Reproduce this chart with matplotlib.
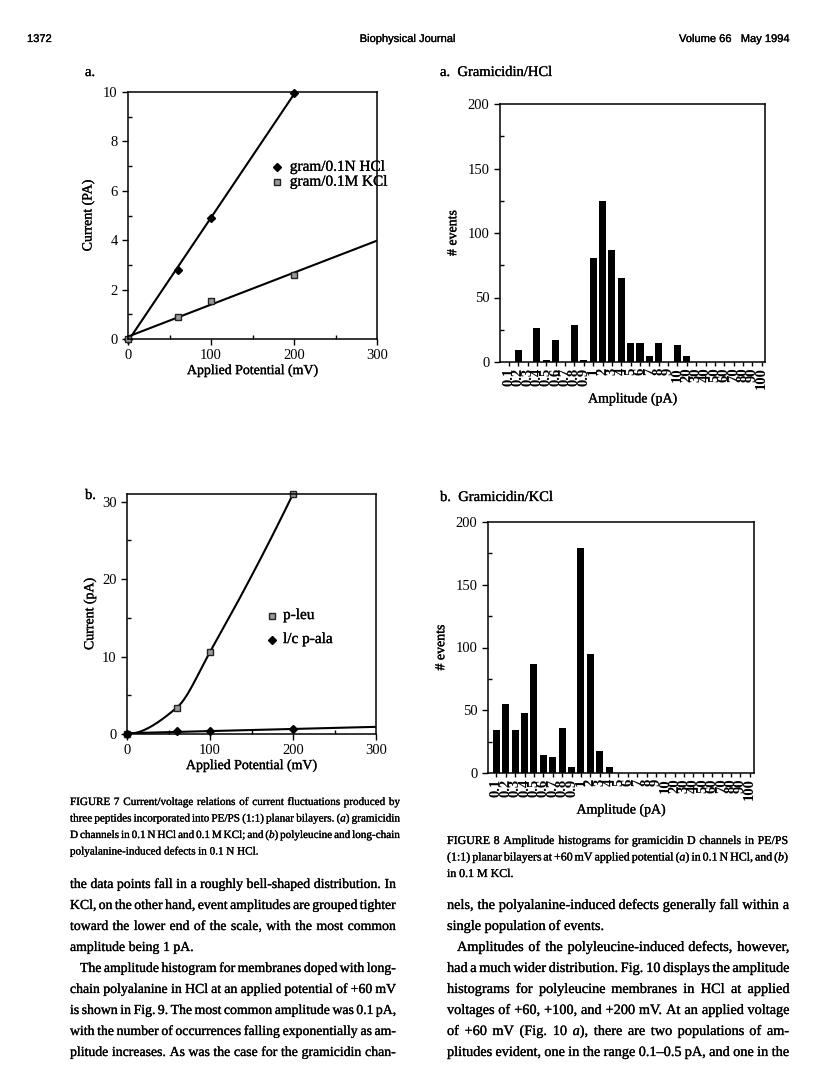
import numpy as np
import matplotlib
matplotlib.use("Agg")
import matplotlib.pyplot as plt
import matplotlib.patheffects as pe
from matplotlib.text import Text
from matplotlib.ticker import MultipleLocator

# ---------------- data ----------------
potential_a = [0, 60, 100, 200]
gram_hcl = [0, 2.8, 4.9, 9.95]
gram_kcl = [0, 0.9, 1.55, 2.6]

potential_b = [0, 60, 100, 200]
p_leu = [0, 3.4, 10.6, 31.0]
lc_p_ala = [0, 0.4, 0.4, 0.6]

amp_labels = ["0.1", "0.2", "0.3", "0.4", "0.5", "0.6", "0.7", "0.8", "0.9",
              "1", "2", "3", "4", "5", "6", "7", "8", "9",
              "10", "20", "30", "40", "50", "60", "70", "80", "90", "100"]
events_hcl = [0, 9, 0, 26, 1.5, 17, 0, 29, 1.5, 81, 125, 87, 65, 14.5, 15, 5,
              14.5, 0, 13.5, 4.5, 0, 0, 0, 0, 0, 0, 0, 0]
events_kcl = [34.5, 55, 34.5, 48, 87, 14.5, 12.5, 35.5, 4.5, 179, 95, 17.5, 5,
              0, 0, 0, 0, 0, 0, 0, 0, 0, 0, 0, 0, 0, 0, 0]

W, H = 816, 1067
SERIF = ["Liberation Serif", "DejaVu Serif"]
SANS = ["Liberation Sans", "DejaVu Sans"]
plt.rcParams["font.family"] = SERIF
plt.rcParams["axes.linewidth"] = 1.0

fig = plt.figure(figsize=(W / 100, H / 100), dpi=100)
fig.patch.set_facecolor("white")


def ax_px(x0, y0, x1, y1):
    return fig.add_axes([x0 / W, 1 - y1 / H, (x1 - x0) / W, (y1 - y0) / H])


def pchip(x, y, xs):
    x = np.asarray(x, float); y = np.asarray(y, float)
    h = np.diff(x); dl = np.diff(y) / h
    n = len(x); d = np.zeros(n)
    for k in range(1, n - 1):
        if dl[k - 1] * dl[k] > 0:
            w1 = 2 * h[k] + h[k - 1]; w2 = h[k] + 2 * h[k - 1]
            d[k] = (w1 + w2) / (w1 / dl[k - 1] + w2 / dl[k])
    d0 = ((2 * h[0] + h[1]) * dl[0] - h[0] * dl[1]) / (h[0] + h[1])
    d[0] = d0 if np.sign(d0) == np.sign(dl[0]) else 0.0
    dn = ((2 * h[-1] + h[-2]) * dl[-1] - h[-1] * dl[-2]) / (h[-1] + h[-2])
    d[-1] = dn if np.sign(dn) == np.sign(dl[-1]) else 0.0
    ys = np.empty_like(xs)
    for i, xv in enumerate(xs):
        k = min(np.searchsorted(x, xv, side="right") - 1, n - 2)
        t = (xv - x[k]) / h[k]
        h00 = 2 * t**3 - 3 * t**2 + 1; h10 = t**3 - 2 * t**2 + t
        h01 = -2 * t**3 + 3 * t**2; h11 = t**3 - t**2
        ys[i] = h00 * y[k] + h10 * h[k] * d[k] + h01 * y[k + 1] + h11 * h[k] * d[k + 1]
    return ys


def style_ticks(ax, size):
    ax.tick_params(which="major", direction="out", length=4, width=1.0, labelsize=size)
    ax.tick_params(which="minor", direction="in", length=3, width=1.0)
    for s in ax.spines.values():
        s.set_linewidth(1.1)


sq_kw = dict(marker="s", markersize=5, markerfacecolor="#9a9a9a",
             markeredgecolor="#222222", markeredgewidth=1.0, linestyle="none", clip_on=False)
dm_kw = dict(marker="D", markersize=4.2, color="black", linestyle="none", clip_on=False)

# ---------------- Figure 7a ----------------
ax1 = ax_px(128, 92, 377, 339)
xs = np.linspace(0, 300, 200)
for yv in (gram_hcl, gram_kcl):
    c = np.polyfit(potential_a, yv, 1)
    ax1.plot(xs, np.polyval(c, xs), color="black", lw=1.5)
ax1.plot(potential_a, gram_hcl, **dm_kw)
ax1.plot(potential_a, gram_kcl, **sq_kw)
ax1.set_xlim(0, 300); ax1.set_ylim(0, 10)
ax1.xaxis.set_major_locator(MultipleLocator(100)); ax1.xaxis.set_minor_locator(MultipleLocator(50))
ax1.yaxis.set_major_locator(MultipleLocator(2)); ax1.yaxis.set_minor_locator(MultipleLocator(1))
style_ticks(ax1, 10.5)
ax1.set_xlabel("Applied Potential (mV)", fontsize=10, labelpad=1)
ax1.set_ylabel("Current (PA)", fontsize=10, labelpad=6)
ax1.plot([180], [6.95], **dm_kw)
ax1.plot([180], [6.35], **sq_kw)
ax1.text(195, 6.95, "gram/0.1N HCl", fontsize=11, va="center")
ax1.text(195, 6.35, "gram/0.1M KCl", fontsize=11, va="center")

# ---------------- Figure 7b ----------------
ax2 = ax_px(127, 494, 376, 734)
xs2 = np.linspace(0, 200, 200)
ax2.plot(xs2, pchip(potential_b, p_leu, xs2), color="black", lw=1.5)
c = np.polyfit(potential_b, lc_p_ala, 1)
ax2.plot(xs, np.polyval(c, xs), color="black", lw=1.5)
ax2.plot(potential_b, p_leu, **sq_kw)
ax2.plot(potential_b, lc_p_ala, **dm_kw)
ax2.set_xlim(0, 300); ax2.set_ylim(0, 31)
ax2.xaxis.set_major_locator(MultipleLocator(100)); ax2.xaxis.set_minor_locator(MultipleLocator(50))
ax2.yaxis.set_major_locator(MultipleLocator(10)); ax2.yaxis.set_minor_locator(MultipleLocator(5))
style_ticks(ax2, 10.5)
ax2.set_xlabel("Applied Potential (mV)", fontsize=10, labelpad=1)
ax2.set_ylabel("Current (pA)", fontsize=10, labelpad=4)
ax2.plot([175], [15.3], **sq_kw)
ax2.plot([175], [12.2], **dm_kw)
ax2.text(188, 15.3, "p-leu", fontsize=11, va="center")
ax2.text(188, 12.2, "l/c p-ala", fontsize=11, va="center")

# ---------------- Figure 8 histograms ----------------
hist_ticklabels = []


def hist(ax, vals, xl):
    pos = np.arange(len(amp_labels))
    ax.bar(pos, vals, width=0.75, color="black")
    ax.set_xlim(*xl); ax.set_ylim(0, 200)
    ax.set_xticks(pos)
    labs = ax.set_xticklabels(amp_labels, rotation=90, fontsize=5.4, fontweight="bold")
    hist_ticklabels.extend(labs)
    ax.yaxis.set_major_locator(MultipleLocator(50)); ax.yaxis.set_minor_locator(MultipleLocator(25))
    style_ticks(ax, 10.5)
    ax.tick_params(axis="x", which="major", length=3, pad=1)
    ax.set_xlabel("Amplitude (pA)", fontsize=10, labelpad=2)
    ax.set_ylabel("# events", fontsize=10, labelpad=6)

ax3 = ax_px(500, 104, 765, 362)
hist(ax3, events_hcl, (-0.95, 27.35))
ax4 = ax_px(488, 522, 754, 773)
hist(ax4, events_kcl, (-0.9, 27.45))

# ---------------- text ----------------
def ftext(x, y, s, **kw):
    return fig.text(x / W, 1 - y / H, s, **kw)

ftext(27, 42, "1372", fontsize=8, family=SANS, va="baseline")
ftext(408, 42, "Biophysical Journal", fontsize=8, family=SANS, va="baseline", ha="center")
ftext(790, 42, "Volume 66   May 1994", fontsize=8, family=SANS, va="baseline", ha="right")
ftext(85, 76, "a.", fontsize=10.5, va="baseline")
ftext(85, 499, "b.", fontsize=10.5, va="baseline")
ftext(440, 76, "a.  Gramicidin/HCl", fontsize=10.5, va="baseline")
ftext(440, 501, "b.  Gramicidin/KCl", fontsize=10.5, va="baseline")

renderer = fig.canvas.get_renderer()
_wcache = {}


def seg_width(s, size, style):
    key = (s, round(size, 4), style)
    if key not in _wcache:
        t = fig.text(0, 0, s, fontsize=size, style=style, family=SERIF)
        _wcache[key] = t.get_window_extent(renderer).width
        t.remove()
    return _wcache[key]


def parse_word(w):
    segs = []
    for i, p in enumerate(w.split("*")):
        if p:
            segs.append((p, "italic" if i % 2 else "normal"))
    return segs


def word_widths(s, size):
    words = [parse_word(w) for w in s.split()]
    return words, [sum(seg_width(p, size, st) for p, st in wd) for wd in words]


def line(x0, x1, yb, s, size, justify=True):
    words, widths = word_widths(s, size)
    space = seg_width("a a", size, "normal") - 2 * seg_width("a", size, "normal")
    if justify and len(words) > 1:
        gap = (x1 - x0 - sum(widths)) / (len(words) - 1)
    else:
        gap = space
    x = x0
    for wd, wdt in zip(words, widths):
        xx = x
        for p, st in wd:
            fig.text(xx / W, 1 - yb / H, p, fontsize=size, style=st, family=SERIF, va="baseline")
            xx += seg_width(p, size, st)
        x += wdt + gap


def block(x0, x1, y0, dy, lines, guess, min_gap_em=0.17):
    em = guess * 100 / 72
    need = 0
    for s, j, ind in lines:
        if j:
            words, widths = word_widths(s, guess)
            tot = sum(widths) + min_gap_em * em * (len(words) - 1)
            need = max(need, tot / (x1 - x0 - ind))
    size = guess / need
    for i, (s, just, ind) in enumerate(lines):
        line(x0 + ind, x1, y0 + i * dy, s, size, just)

cap7 = [
    ("FIGURE 7   Current/voltage relations of current fluctuations produced by", True, 0),
    ("three peptides incorporated into PE/PS (1:1) planar bilayers. (*a*) gramicidin", True, 0),
    ("D channels in 0.1 N HCl and 0.1 M KCl; and (*b*) polyleucine and long-chain", True, 0),
    ("polyalanine-induced defects in 0.1 N HCl.", False, 0),
]
block(70, 400, 805, 16.5, cap7, 8, 0.16)

cap8 = [
    ("FIGURE 8   Amplitude histograms for gramicidin D channels in PE/PS", True, 0),
    ("(1:1) planar bilayers at +60 mV applied potential (*a*) in 0.1 N HCl, and (*b*)", True, 0),
    ("in 0.1 M KCl.", False, 0),
]
block(447, 788, 844, 16.5, cap8, 8, 0.16)

body_left = [
    ("the data points fall in a roughly bell-shaped distribution. In", True, 0),
    ("KCl, on the other hand, event amplitudes are grouped tighter", True, 0),
    ("toward the lower end of the scale, with the most common", True, 0),
    ("amplitude being 1 pA.", False, 0),
    ("The amplitude histogram for membranes doped with long-", True, 10),
    ("chain polyalanine in HCl at an applied potential of +60 mV", True, 0),
    ("is shown in Fig. 9. The most common amplitude was 0.1 pA,", True, 0),
    ("with the number of occurrences falling exponentially as am-", True, 0),
    ("plitude increases. As was the case for the gramicidin chan-", True, 0),
]
block(70, 396, 888, 21, body_left, 10, 0.18)

body_right = [
    ("nels, the polyalanine-induced defects generally fall within a", True, 0),
    ("single population of events.", False, 0),
    ("Amplitudes of the polyleucine-induced defects, however,", True, 10),
    ("had a much wider distribution. Fig. 10 displays the amplitude", True, 0),
    ("histograms for polyleucine membranes in HCl at applied", True, 0),
    ("voltages of +60, +100, and +200 mV. At an applied voltage", True, 0),
    ("of +60 mV (Fig. 10 *a*), there are two populations of am-", True, 0),
    ("plitudes evident, one in the range 0.1–0.5 pA, and one in the", True, 0),
]
block(447, 789, 909, 21, body_right, 10, 0.18)

# slightly heavier glyphs, like the scanned print (not on the tiny bin labels)
skip = set(id(t) for t in hist_ticklabels)
for t in fig.findobj(Text):
    if id(t) not in skip and t.get_text():
        t.set_path_effects([pe.withStroke(linewidth=0.2, foreground="black")])

fig.savefig("out.png", dpi=100)
